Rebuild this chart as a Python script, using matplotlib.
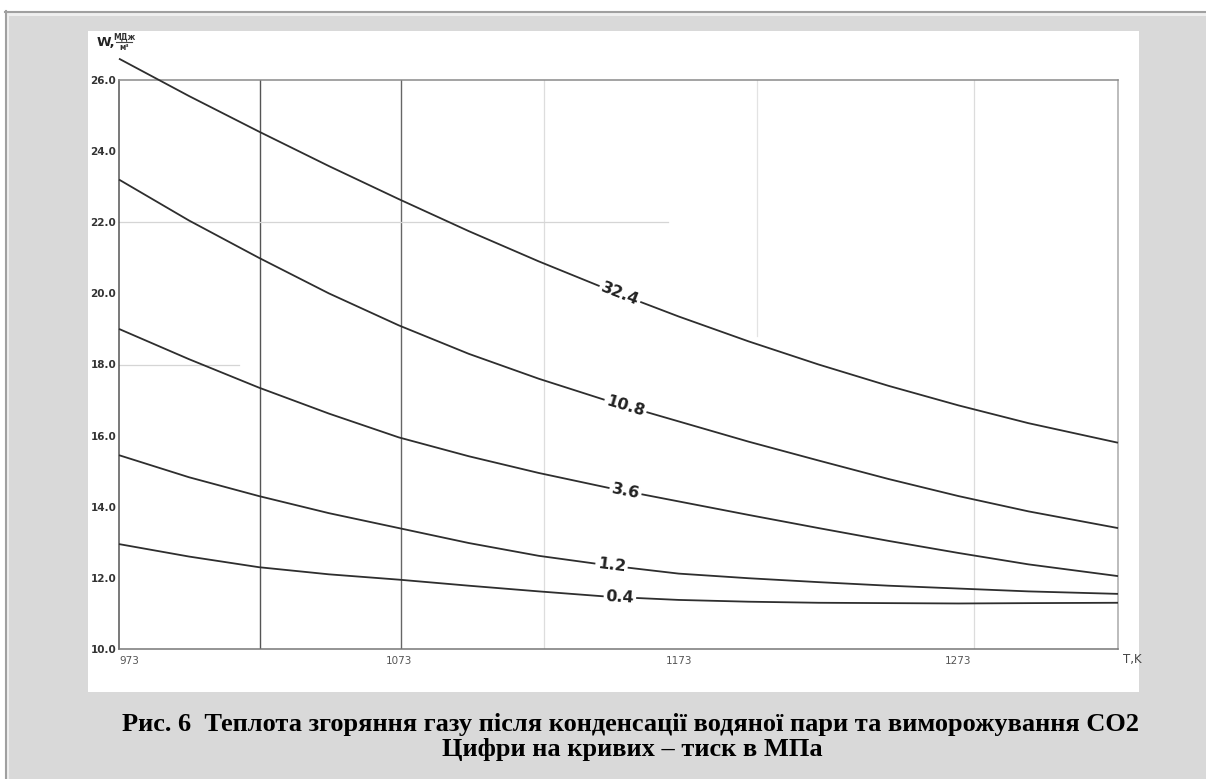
import matplotlib
matplotlib.use("Agg")
import matplotlib.pyplot as plt
from matplotlib.patches import Rectangle
from matplotlib.lines import Line2D
import numpy as np

# ---- data -------------------------------------------------------------
temperature = [973, 998, 1023, 1048, 1073, 1098, 1123, 1148,
               1173, 1198, 1223, 1248, 1273, 1298, 1330]          # T, K
pressures = ["32.4", "10.8", "3.6", "1.2", "0.4"]                 # MPa
w_32_4 = [26.6, 25.55, 24.55, 23.58, 22.65, 21.75, 20.9, 20.1,
          19.35, 18.65, 18.0, 17.4, 16.85, 16.35, 15.8]
w_10_8 = [23.2, 22.05, 21.0, 20.0, 19.1, 18.3, 17.6, 16.97,
          16.4, 15.83, 15.3, 14.78, 14.3, 13.87, 13.4]
w_3_6 = [19.0, 18.15, 17.35, 16.62, 15.95, 15.42, 14.95, 14.53,
         14.15, 13.77, 13.4, 13.04, 12.7, 12.38, 12.05]
w_1_2 = [15.45, 14.83, 14.3, 13.82, 13.4, 12.98, 12.62, 12.35,
         12.12, 11.99, 11.88, 11.78, 11.7, 11.62, 11.55]
w_0_4 = [12.95, 12.6, 12.3, 12.1, 11.95, 11.78, 11.62, 11.47,
         11.38, 11.33, 11.3, 11.29, 11.28, 11.29, 11.3]
series = [w_32_4, w_10_8, w_3_6, w_1_2, w_0_4]
label_T = [1152, 1154, 1154, 1149, 1152]

y_ticks = [10.0, 12.0, 14.0, 16.0, 18.0, 20.0, 22.0, 24.0, 26.0]
x_ticks = [973, 1073, 1173, 1273]

caption_1 = "Рис. 6  Теплота згоряння газу після конденсації водяної пари та виморожування СО2"
caption_2 = "Цифри на кривих – тиск в МПа"

# ---- page -------------------------------------------------------------
W_PX, H_PX = 1206, 779
fig = plt.figure(figsize=(W_PX / 100, H_PX / 100), dpi=100, facecolor="#d9d9d9")


def fx(x):
    return x / W_PX


def fy(y):
    return 1 - y / H_PX


def page_rect(x0, y0, x1, y1, color):
    fig.add_artist(Rectangle((fx(x0), fy(y1)), (x1 - x0) / W_PX, (y1 - y0) / H_PX,
                             transform=fig.transFigure, facecolor=color,
                             edgecolor="none", zorder=-5))


# white margin and frame lines
page_rect(0, 0, W_PX, 10.5, "white")
page_rect(0, 0, 5, H_PX, "white")
page_rect(6.5, 12.5, W_PX, 16, "#efefef")
page_rect(6.5, 12.5, 9, H_PX, "#efefef")
fig.add_artist(Line2D([fx(5), 1], [fy(11.5), fy(11.5)], transform=fig.transFigure,
                      color="#a0a0a0", lw=1.5, zorder=-4))
fig.add_artist(Line2D([fx(5.5), fx(5.5)], [fy(11), 0], transform=fig.transFigure,
                      color="#a0a0a0", lw=1.5, zorder=-4))

# white chart sheet
page_rect(88, 31, 1139, 692, "white")

# ---- axes -------------------------------------------------------------
ax = fig.add_axes([fx(119), fy(649), (1118 - 119) / W_PX, (649 - 80) / H_PX])
ax.set_facecolor("none")
ax.set_xlim(973, 1330)
ax.set_ylim(10, 26)

for side, col in [("left", "#555555"), ("bottom", "#777777"),
                  ("top", "#8a8a8a"), ("right", "#aaaaaa")]:
    ax.spines[side].set_color(col)
    ax.spines[side].set_linewidth(1.1)

# drafting grid
ax.axvline(1023.5, color="#555555", lw=1.0, zorder=1)
ax.axvline(1073.7, color="#666666", lw=1.0, zorder=1)
ax.axvline(1125, color="#dddddd", lw=0.9, zorder=1)
ax.axvline(1201, ymin=0.55, color="#e3e3e3", lw=0.9, zorder=1)
ax.axvline(1278.5, color="#dcdcdc", lw=0.9, zorder=1)
ax.axhline(22.0, xmax=0.55, color="#d5d5d5", lw=0.9, zorder=1)
ax.axhline(18.0, xmax=0.12, color="#d5d5d5", lw=0.9, zorder=1)

ax.set_yticks(y_ticks)
ax.set_yticklabels([f"{v:.1f}" for v in y_ticks])
ax.set_xticks(x_ticks)
ax.set_xticklabels([str(v) for v in x_ticks])
ax.tick_params(axis="both", length=0, labelsize=7.5, labelcolor="#333333")
ax.tick_params(axis="y", pad=2)
ax.tick_params(axis="x", pad=5)
for i, lab in enumerate(ax.get_xticklabels()):
    lab.set_color("#555555")
    lab.set_horizontalalignment("left" if i == 0 else "center")
for lab in ax.get_yticklabels():
    lab.set_fontweight("bold")

# curves with pressure labels
for name, w, tl in zip(pressures, series, label_T):
    ax.plot(temperature, w, color="#2e2e2e", lw=1.3, clip_on=False, zorder=3,
            solid_capstyle="butt", solid_joinstyle="round")
    wl = np.interp(tl, temperature, w)
    p1 = ax.transData.transform((tl - 15, np.interp(tl - 15, temperature, w)))
    p2 = ax.transData.transform((tl + 15, np.interp(tl + 15, temperature, w)))
    ang = np.degrees(np.arctan2(p2[1] - p1[1], p2[0] - p1[0]))
    ax.text(tl, wl, name, rotation=ang, rotation_mode="anchor", ha="center",
            va="center", fontsize=11.5, fontweight="bold", color="#222222",
            zorder=4, bbox=dict(facecolor="white", edgecolor="none", pad=1.5))

# axis captions
fig.text(fx(1132), fy(660), "T,K", ha="center", va="center", fontsize=8.5,
         color="#444444")
fig.text(fx(97), fy(42), "W,", ha="left", va="center", fontsize=9.5,
         fontweight="bold", color="#222222")
fig.text(fx(124), fy(37), "МДж", ha="center", va="center", fontsize=5.5,
         fontweight="bold", color="#333333")
fig.add_artist(Line2D([fx(116), fx(132)], [fy(42), fy(42)], transform=fig.transFigure,
                      color="#444444", lw=0.8))
fig.text(fx(124), fy(47), "м³", ha="center", va="center", fontsize=5.5,
         fontweight="bold", color="#333333")

# figure caption
fig.text(fx(631), fy(731), caption_1, ha="center", va="baseline",
         fontfamily="Liberation Serif", fontweight="bold", fontsize=19, color="black")
fig.text(fx(632), fy(756), caption_2, ha="center", va="baseline",
         fontfamily="Liberation Serif", fontweight="bold", fontsize=19, color="black")

fig.savefig("out.png", dpi=100, facecolor=fig.get_facecolor())
